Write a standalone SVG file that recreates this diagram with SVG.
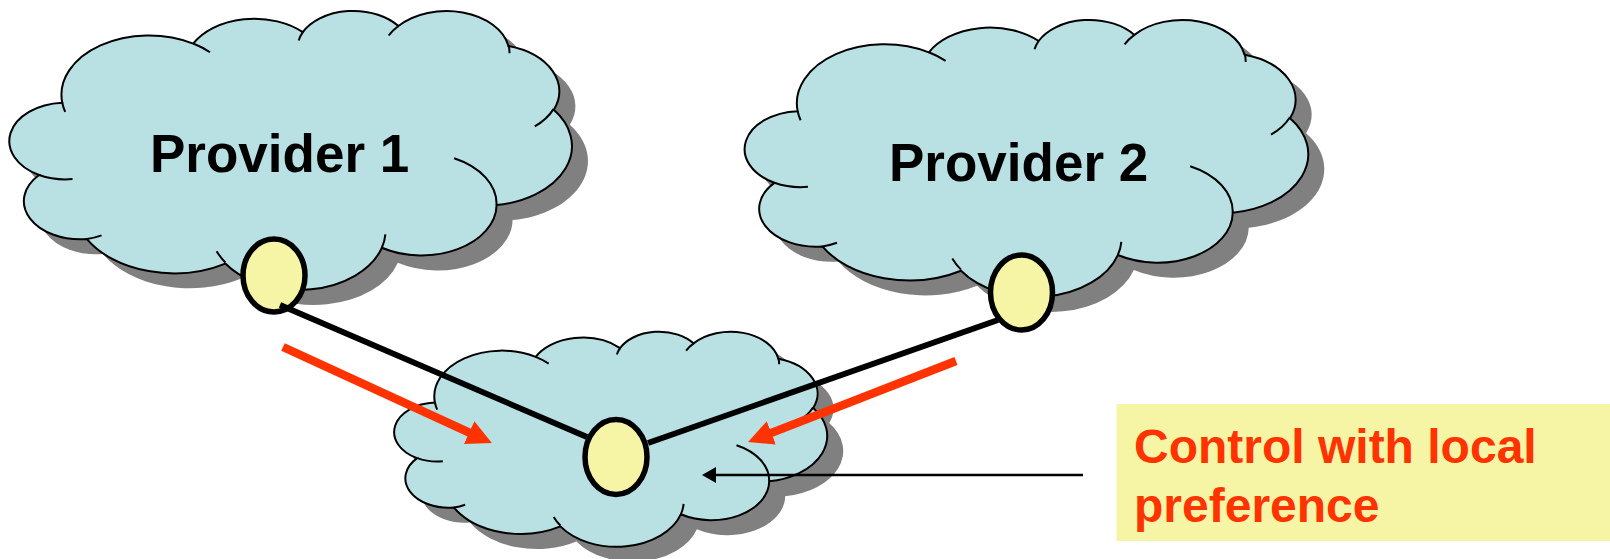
<svg xmlns="http://www.w3.org/2000/svg" xmlns:xlink="http://www.w3.org/1999/xlink" width="1610" height="559" viewBox="0 0 1610 559">
  <style>
    .cloud-shadow { fill: #808080; stroke: none; }
    .cloud-body { fill: #B9E0E3; stroke: #000; stroke-width: 2; }
    .cloud-crease { fill: none; stroke: #000; stroke-width: 2; }
    .label { font-family: "Liberation Sans", Arial, sans-serif; font-weight: bold; font-size: 53px; fill: #000; }
    .router { fill: #F5F5A5; stroke: #000; stroke-width: 5.5; }
    .link { fill: none; stroke: #000; stroke-width: 5.8; }
    .flow { fill: none; stroke: #FF3300; stroke-width: 8.5; }
    .pointer { fill: none; stroke: #000; stroke-width: 2.5; }
    .note { fill: #F5F5A5; }
    .note-text { font-family: "Liberation Sans", Arial, sans-serif; font-weight: bold; font-size: 48px; fill: #FF3300; }
  </style>
  <defs>
    <!-- cloud outline in a 432 x 432 unit box, stretched per cloud -->
    <path id="cloud-outline" vector-effect="non-scaling-stroke"
      d="M39,143.7 A67.53,91.9 0 0 1 140.05,52.02 A53.33,72.67 0 0 1 224.56,34.32 A43.65,59.45 0 0 1 298.33,24.81 A48.57,65.95 0 0 1 383.18,55.76 A53.33,72.73 0 0 1 418.19,154.6 A67.75,92.2 0 0 1 374.05,302.03 A57.85,78.67 0 0 1 285.56,368.13 A67.52,92.15 0 0 1 164.81,392.64 A77.2,105.43 0 0 1 58.05,354.7 A43.6,59.18 0 0 1 21.14,255.48 A43.45,59.45 0 0 1 39,143.7 Z"/>
    <!-- the short interior arcs between the puffs -->
    <path id="cloud-creases" vector-effect="non-scaling-stroke"
      d="M46.93,261.77 A43.45,59.45 0 0 1 21.14,255.48
         M69.28,348.99 A43.6,59.18 0 0 1 58.05,354.7
         M164.78,390.9 A67.52,92.15 0 0 1 158.1,373.5
         M288.27,347.51 A67.52,92.15 0 0 1 285.56,368.13
         M341.29,229.54 A57.85,78.67 0 0 1 374.05,302.03
         M417.98,153.54 A53.33,72.73 0 0 1 403.5,180.3
         M383.24,54.26 A48.57,65.95 0 0 1 384,66.9
         M290.78,39.52 A48.57,65.95 0 0 1 298.33,24.81
         M221.41,47.2 A43.65,59.45 0 0 1 224.56,34.32
         M140,51.92 A67.53,91.9 0 0 1 153,65.4
         M41.27,157.89 A67.53,91.9 0 0 1 39,143.7"/>
    <marker id="flow-head" viewBox="0 0 25 25" markerUnits="userSpaceOnUse" markerWidth="25" markerHeight="25" refX="2" refY="12.5" orient="auto">
      <path d="M0,0 L25,12.5 L0,25 Z" fill="#FF3300"/>
    </marker>
    <marker id="pointer-head" viewBox="0 0 14 16" markerUnits="userSpaceOnUse" markerWidth="14" markerHeight="16" refX="2" refY="8" orient="auto">
      <path d="M0,0 L14,8 L0,16 Z" fill="#000"/>
    </marker>
  </defs>

  <!-- Provider 1 network -->
  <g id="provider-1">
    <use xlink:href="#cloud-outline" class="cloud-shadow" transform="translate(27.7,25) scale(1.2963,0.6458)"/>
    <use xlink:href="#cloud-outline" class="cloud-body" transform="translate(11.7,10) scale(1.2963,0.6458)"/>
    <use xlink:href="#cloud-creases" class="cloud-crease" transform="translate(11.7,10) scale(1.2963,0.6458)"/>
    <text class="label" x="150" y="171.5">Provider 1</text>
  </g>

  <!-- Provider 2 network -->
  <g id="provider-2">
    <use xlink:href="#cloud-outline" class="cloud-shadow" transform="translate(763,34) scale(1.2986,0.6412)"/>
    <use xlink:href="#cloud-outline" class="cloud-body" transform="translate(747,19) scale(1.2986,0.6412)"/>
    <use xlink:href="#cloud-creases" class="cloud-crease" transform="translate(747,19) scale(1.2986,0.6412)"/>
    <text class="label" x="889" y="181">Provider 2</text>
  </g>

  <!-- customer network -->
  <g id="customer">
    <use xlink:href="#cloud-outline" class="cloud-shadow" transform="translate(412,346) scale(0.9977,0.4977)"/>
    <use xlink:href="#cloud-outline" class="cloud-body" transform="translate(396,331) scale(0.9977,0.4977)"/>
    <use xlink:href="#cloud-creases" class="cloud-crease" transform="translate(396,331) scale(0.9977,0.4977)"/>
  </g>

  <!-- border routers -->
  <g id="router-1"><ellipse class="router" cx="274" cy="275.5" rx="31" ry="36.5"/></g>
  <g id="router-2"><ellipse class="router" cx="1021.5" cy="292.5" rx="31" ry="37.5"/></g>
  <g id="router-3"><ellipse class="router" cx="616" cy="457" rx="31" ry="37.5"/></g>

  <!-- links and traffic arrows -->
  <g id="connectors">
    <line class="link" x1="280" y1="305" x2="587" y2="437"/>
    <line class="link" x1="648" y1="443" x2="998" y2="320"/>
    <line class="flow" x1="283" y1="347" x2="471" y2="433.4" marker-end="url(#flow-head)"/>
    <line class="flow" x1="956" y1="361" x2="769.5" y2="433.6" marker-end="url(#flow-head)"/>
    <line class="pointer" x1="1083" y1="475" x2="714" y2="475" marker-end="url(#pointer-head)"/>
  </g>

  <!-- callout -->
  <g id="callout">
    <rect class="note" x="1116.5" y="404" width="493.5" height="137"/>
    <text class="note-text" x="1134" y="463">Control with local</text>
    <text class="note-text" x="1134" y="521.5">preference</text>
  </g>
</svg>
